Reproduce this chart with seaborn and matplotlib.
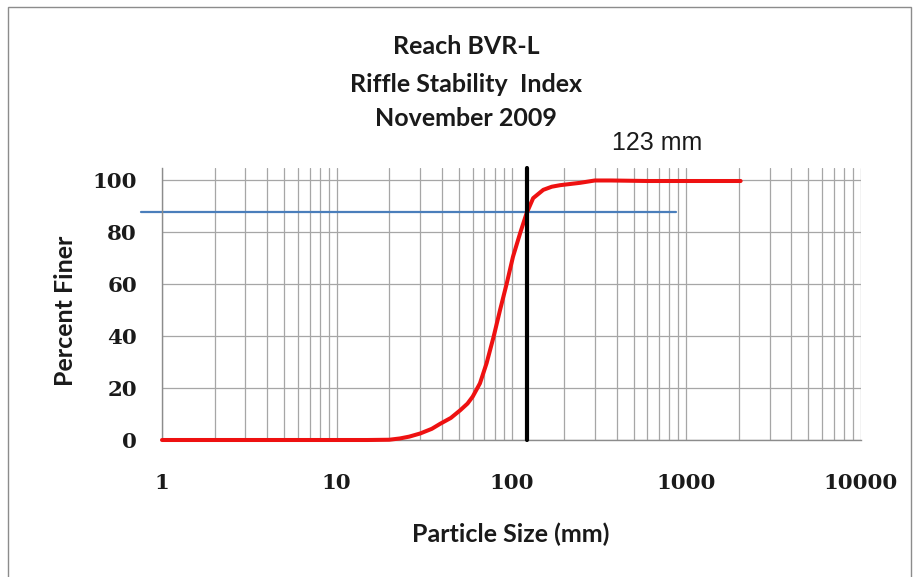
import numpy as np
import pandas as pd
import matplotlib
matplotlib.use("Agg")
import matplotlib.pyplot as plt
import seaborn as sns
from matplotlib.ticker import LogLocator, FixedLocator, NullFormatter, FixedFormatter
from matplotlib.patches import Rectangle

# ---- data ----
particle_size = [1, 5, 10, 15, 20, 23, 26, 30, 35, 39, 45, 51, 56, 60, 66, 72, 79, 86, 94,
                 102, 112, 122, 133, 152, 170, 190, 247, 300, 370, 600, 1000, 2048]
percent_finer = [0, 0, 0, 0, 0.1, 0.6, 1.3, 2.5, 4.3, 6.2, 8.5, 11.5, 14, 16.7, 21.8, 29.5, 39.7, 50, 60.3,
                 70.5, 79.5, 87.2, 93, 96.2, 97.4, 98.0, 98.9, 99.8, 99.8, 99.6, 99.6, 99.6]
d_value = 123          # vertical marker (mm)
d_percent = 87.7       # horizontal marker (%)
blue_x = [0.76, 870]
x_ticks = [1, 10, 100, 1000, 10000]
x_tick_labels = ["1", "10", "100", "1000", "10000"]
y_ticks = [0, 20, 40, 60, 80, 100]
title_lines = ["Reach BVR-L", "Riffle Stability  Index", "November 2009"]

df = pd.DataFrame({"size": particle_size, "pct": percent_finer})

sns.set_style("white")
plt.rcParams["font.family"] = ["DejaVu Sans"]

W, H = 915, 577
fig = plt.figure(figsize=(W / 100, H / 100), dpi=100)
ax = fig.add_axes([162 / W, 1 - 440 / H, (861 - 162) / W, (440 - 168) / H])

# figure frame
fig.patches.append(Rectangle((8 / W, -0.1), (911 - 8) / W, 1.1 - 7 / H, transform=fig.transFigure,
                             fill=False, edgecolor="#8c8c8c", linewidth=1.0))

ax.set_xscale("log")
ax.set_xlim(1, 10000)
ax.set_ylim(0, 104.6)

# grid
ax.xaxis.set_major_locator(FixedLocator(x_ticks))
ax.xaxis.set_major_formatter(FixedFormatter(x_tick_labels))
ax.xaxis.set_minor_locator(LogLocator(base=10, subs=np.arange(2, 10), numticks=20))
ax.xaxis.set_minor_formatter(NullFormatter())
ax.yaxis.set_major_locator(FixedLocator(y_ticks))
ax.yaxis.set_minor_locator(FixedLocator([10, 30, 50, 70, 90]))
ax.grid(True, which="major", axis="both", color="#a6a6a6", linewidth=0.9)
ax.grid(True, which="minor", axis="x", color="#a6a6a6", linewidth=0.9)
ax.set_axisbelow(True)

for s in ["top", "right"]:
    ax.spines[s].set_visible(False)
for s in ["left", "bottom"]:
    ax.spines[s].set_color("#8c8c8c")
    ax.spines[s].set_linewidth(1.0)

ax.tick_params(axis="x", which="major", direction="out", length=7, width=0.9, color="#8c8c8c", pad=17)
ax.tick_params(axis="x", which="minor", length=0)
ax.tick_params(axis="y", which="major", direction="out", length=6, width=0.9, color="#8c8c8c", pad=12)
ax.tick_params(axis="y", which="minor", direction="in", length=4, width=0.9, color="#8c8c8c")
for lab in ax.get_xticklabels() + ax.get_yticklabels():
    lab.set_fontfamily("DejaVu Serif")
    lab.set_fontweight("bold")
    lab.set_fontsize(15.4)
    lab.set_color("#1a1a1a")

# curve
sns.lineplot(data=df, x="size", y="pct", ax=ax, color="#ee1111", linewidth=2.9, sort=True,
             estimator=None, clip_on=False, zorder=3, solid_joinstyle="round", solid_capstyle="round")
ax.plot(blue_x, [d_percent, d_percent], color="#4a7ebb", linewidth=1.6, clip_on=False, zorder=2)
ax.plot([d_value, d_value], [0, 104.6], color="black", linewidth=3.0, zorder=4, clip_on=False)

ax.set_xlabel("Particle Size (mm)", fontfamily="Lato", fontweight="bold", fontsize=18, color="#1a1a1a")
ax.set_ylabel("Percent Finer", fontfamily="Lato", fontweight="bold", fontsize=18, color="#1a1a1a")
ax.xaxis.set_label_coords(0.4995, -0.305)
ax.yaxis.set_label_coords(-0.1216, 0.474)

fig.text(657 / W, 1 - 143 / H, f"{d_value} mm", ha="center", va="center",
         fontfamily="Liberation Sans", fontsize=18, color="#1a1a1a")

for yp, t in zip([46, 84, 118], title_lines):
    fig.text(466 / W, 1 - yp / H, t, ha="center", va="center",
             fontfamily="Lato", fontweight="bold", fontsize=18, color="#1a1a1a")

fig.savefig("out.png", dpi=100)
